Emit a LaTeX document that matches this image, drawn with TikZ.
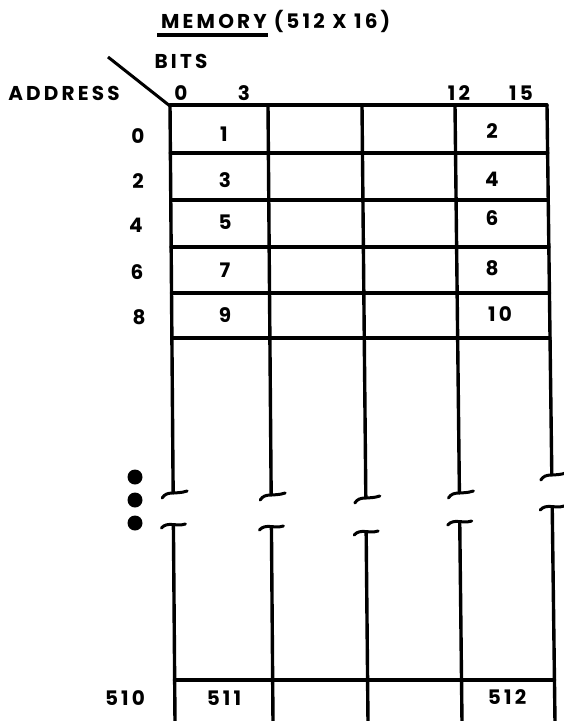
\documentclass[tikz,border=0pt]{standalone}
\usepackage{fontspec}
\setmainfont{Poppins}[LetterSpace=16]
\begin{document}
\begin{tikzpicture}[x=1pt,y=-1pt,
  lbl/.style={inner sep=0pt,anchor=base,font=\fontsize{20}{22}\selectfont\bfseries},
  grid/.style={line width=3.4pt,line cap=round,line join=round},
  brk/.style={line width=3pt,line cap=round}]
\useasboundingbox (0,0) rectangle (564,721);
% title
\node[lbl] (mem) at (214,28) {MEMORY};
\node[lbl] (dim) at (332,28) {(512 X 16)};
\draw[line width=3.5pt] (157,35) -- (268,35);
\node[lbl] (bits) at (181,68) {BITS};
\node[lbl] (addr) at (64,100) {ADDRESS};
\draw[line width=3pt] (108,57) -- (170,106);
% bit labels
\node[lbl] (b0) at (181,100) {0};
\node[lbl] (b3) at (244,100) {3};
\node[lbl] (b12) at (459,100) {12};
\node[lbl] (b15) at (521,100) {15};
% vertical lines with breaks: (xtop, xbot, ybreak-up, ybreak-low)
\foreach \xt/\xb/\yu/\yl in {170/175/493/525, 268/273/495/527, 362/368/498/532, 455/462/493/522, 547/555/475/507}{
  \pgfmathsetmacro{\xu}{\xt+(\xb-\xt)*(\yu-105)/616}
  \pgfmathsetmacro{\xl}{\xt+(\xb-\xt)*(\yl-105)/616}
  \draw[grid] (\xt,105) -- (\xu,\yu);
  \draw[brk] (\xu-11,\yu+5) .. controls (\xu-6,\yu-3) and (\xu+2,\yu+2) .. (\xu+14,\yu-2);
  \draw[brk] (\xl-12,\yl+3) .. controls (\xl-6,\yl-4) and (\xl+3,\yl+2) .. (\xl+12,\yl-1);
  \draw[grid] (\xl,\yl) -- (\xb,722);
}
% horizontal lines
\foreach \y in {105,153,200,247,293,338}{
  \pgfmathsetmacro{\xa}{170+5*(\y-105)/616}
  \pgfmathsetmacro{\xz}{547+8*(\y-105)/616}
  \draw[grid] (\xa,\y) -- (\xz,\y);
}
\draw[grid] (174.5,680) -- (554.5,680);
% dots
\foreach \y in {477,500,523}{ \fill (135,\y) circle (7.5); }
% address labels
\node[lbl] (a0) at (138,143) {0};
\node[lbl] (a2) at (138,188) {2};
\node[lbl] (a4) at (136,232) {4};
\node[lbl] (a6) at (137,279) {6};
\node[lbl] (a8) at (139,324) {8};
\node[lbl] (a510) at (125,705) {510};
% cell contents
\node[lbl] (c1) at (224,141) {1};
\node[lbl] (c2) at (492,138) {2};
\node[lbl] (c3) at (225,187) {3};
\node[lbl] (c4) at (492,186) {4};
\node[lbl] (c5) at (225,229) {5};
\node[lbl] (c6) at (492,225) {6};
\node[lbl] (c7) at (225,277) {7};
\node[lbl] (c8) at (492,275) {8};
\node[lbl] (c9) at (225,322) {9};
\node[lbl] (c10) at (500,321) {10};
\node[lbl] (c511) at (224,705) {511};
\node[lbl] (c512) at (507,704) {512};
\end{tikzpicture}
\end{document}
